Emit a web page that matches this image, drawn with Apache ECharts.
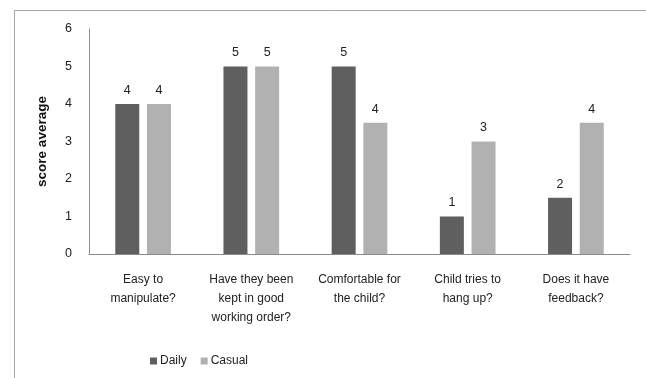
<!DOCTYPE html>
<html>
<head>
<meta charset="utf-8">
<script src="https://cdn.jsdelivr.net/npm/echarts@6/dist/echarts.min.js"></script>
<style>
  html, body { margin: 0; padding: 0; background: #fff; }
  #chart { width: 646px; height: 378px; }
</style>
</head>
<body>
<div id="chart"></div>
<script>
// categories and values
const categories = [
  'Easy to\nmanipulate?',
  'Have they been\nkept in good\nworking order?',
  'Comfortable for\nthe child?',
  'Child tries to\nhang up?',
  'Does it have\nfeedback?'
];
const dailyValues = [4, 5, 5, 1, 1.5];
const casualValues = [4, 5, 3.5, 3, 3.5];
const yTicks = [0, 1, 2, 3, 4, 5, 6];

const font = 'Liberation Sans';
const chart = echarts.init(document.getElementById('chart'));

const barLabel = {
  show: true,
  position: 'top',
  distance: 7,
  color: '#222',
  fontFamily: font,
  fontSize: 12.5,
  formatter: p => Math.round(p.value)
};

chart.setOption({
  animation: false,
  graphic: [{
    type: 'rect',
    shape: { x: 14.5, y: 10.5, width: 700, height: 400 },
    style: { fill: 'none', stroke: '#a6a6a6', lineWidth: 1 },
    silent: true
  }],
  grid: { left: 89, right: 16, top: 29, bottom: 124 },
  legend: {
    left: 145,
    top: 350,
    itemWidth: 7,
    itemHeight: 7,
    itemGap: 14,
    icon: 'rect',
    textStyle: { fontFamily: font, fontSize: 12, color: '#222', padding: [0, 0, 0, -2] },
    data: ['Daily', 'Casual']
  },
  xAxis: {
    type: 'category',
    data: categories,
    axisLine: { lineStyle: { color: '#8c8c8c' } },
    axisTick: { show: false },
    axisLabel: {
      interval: 0,
      margin: 16,
      fontFamily: font,
      fontSize: 12,
      lineHeight: 19,
      color: '#222'
    }
  },
  yAxis: {
    type: 'value',
    min: yTicks[0],
    max: yTicks[yTicks.length - 1],
    interval: 1,
    name: 'score average',
    nameLocation: 'middle',
    nameGap: 40,
    nameTextStyle: { fontFamily: font, fontSize: 13.5, fontWeight: 'bold', color: '#111' },
    axisLine: { show: true, lineStyle: { color: '#8c8c8c' } },
    axisTick: { show: false },
    splitLine: { show: false },
    axisLabel: { margin: 17, fontFamily: font, fontSize: 12.5, color: '#222' }
  },
  series: [
    {
      name: 'Daily',
      type: 'bar',
      data: dailyValues,
      barWidth: 24,
      barGap: '32%',
      itemStyle: { color: '#5f5f5f' },
      label: barLabel
    },
    {
      name: 'Casual',
      type: 'bar',
      data: casualValues,
      barWidth: 24,
      itemStyle: { color: '#b1b1b1' },
      label: barLabel
    }
  ]
});
</script>
</body>
</html>
